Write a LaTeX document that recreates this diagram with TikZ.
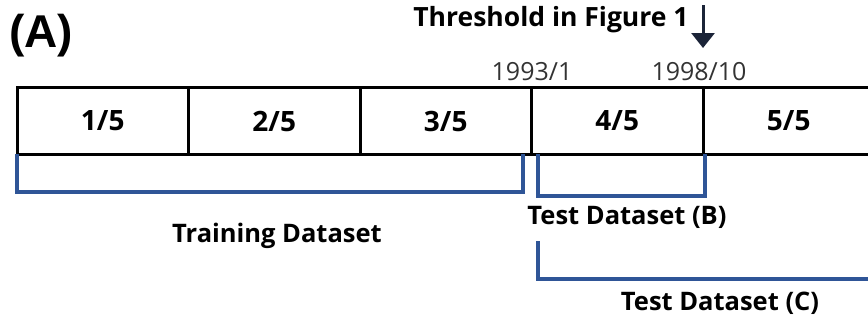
\documentclass[tikz,border=0pt]{standalone}
\usepackage{fontspec}
\setmainfont{Open Sans}
\newfontfamily\headfont{Liberation Sans}
\newfontfamily\labfont{Open Sans}
\usetikzlibrary{arrows.meta}

\definecolor{bracketblue}{HTML}{2F5597}
\definecolor{arrownavy}{HTML}{1B2438}

\tikzset{
	cell/.style={draw=black, line width=3pt, minimum width=171.5pt, minimum height=67pt, inner sep=0pt, font=\labfont\bfseries\fontsize{28}{30}\selectfont},
	bracket/.style={draw=bracketblue, line width=4pt},
	lab/.style={inner sep=0pt, font=\labfont\bfseries\fontsize{25.5}{28}\selectfont},
	datelab/.style={inner sep=0pt, text=black!80, font=\fontsize{25}{27}\selectfont}
}

\begin{document}
\begin{tikzpicture}[x=1pt, y=-1pt]

	%frame of the picture, the fifth cell runs out of it on the right
	\path[use as bounding box, clip] (0,0) rectangle (868,322);

	%panel letter
	\node[inner sep=0pt, anchor=west, font=\headfont\bfseries\fontsize{46}{48}\selectfont] (panel) at (9,36) {(A)};

	%the five folds of the time series
	\node[cell] (fold1) at (102.75,121) {1/5};
	\node[cell] (fold2) at (274.25,121) {2/5};
	\node[cell] (fold3) at (445.75,121) {3/5};
	\node[cell] (fold4) at (617.25,121) {4/5};
	\node[cell] (fold5) at (788.75,121) {5/5};

	%dates at the fold borders
	\node[datelab] (dateStart) at (532,72) {1993/1};
	\node[datelab] (dateEnd) at (699,72) {1998/10};

	%threshold marker
	\node[lab, font=\labfont\bfseries\fontsize{26.5}{29}\selectfont] (thresh) at (551,20) {Threshold in Figure 1};
	\coordinate (arrTop) at (703,5);
	\coordinate (arrTip) at (703,48);
	\draw[arrownavy, line width=3pt, -{Triangle[width=23pt,length=15pt]}] (arrTop) -- (arrTip);

	%bracket corners
	\coordinate (trainTL) at (17,154);
	\coordinate (trainBL) at (17,192);
	\coordinate (trainBR) at (523,192);
	\coordinate (trainTR) at (523,154);
	\coordinate (testBTL) at (538,154);
	\coordinate (testBBL) at (538,196);
	\coordinate (testBBR) at (705,196);
	\coordinate (testBTR) at (705,154);
	\coordinate (testCTL) at (538,241);
	\coordinate (testCBL) at (538,279);
	\coordinate (testCBR) at (872,279);

	%dataset brackets
	\draw[bracket] (trainTL) -- (trainBL) -- (trainBR) -- (trainTR);
	\draw[bracket] (testBTL) -- (testBBL) -- (testBBR) -- (testBTR);
	\draw[bracket] (testCTL) -- (testCBL) -- (testCBR);

	%dataset labels
	\node[lab] (train) at (277,236) {Training Dataset};
	\node[lab] (testB) at (627,217) {Test Dataset (B)};
	\node[lab] (testC) at (720,303) {Test Dataset (C)};

\end{tikzpicture}
\end{document}
